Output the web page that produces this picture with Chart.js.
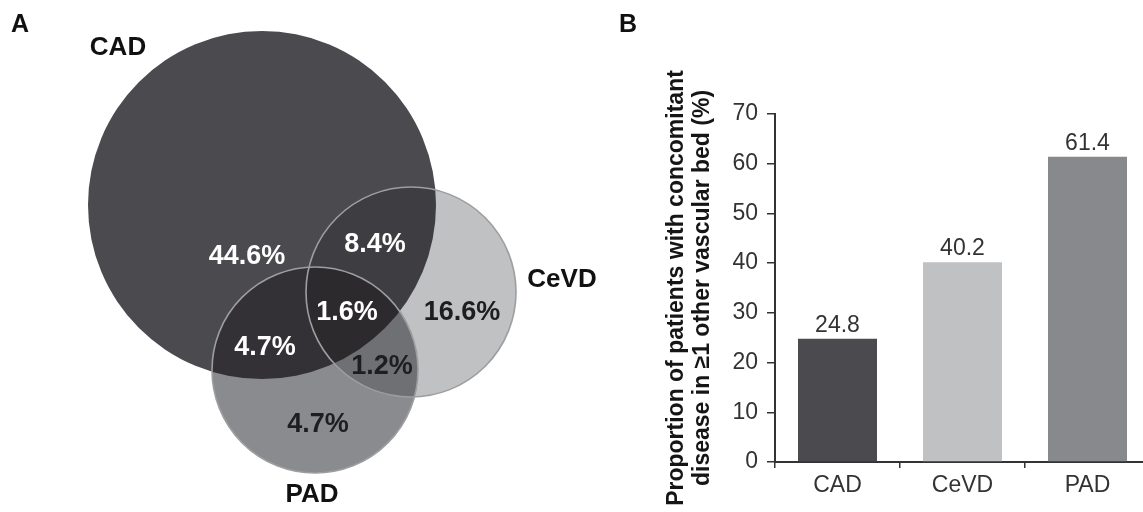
<!DOCTYPE html>
<html>
<head>
<meta charset="utf-8">
<script src="https://cdn.jsdelivr.net/npm/chart.js@4.4.1/dist/chart.umd.min.js"></script>
<style>
  html, body { margin: 0; padding: 0; background: #fff; overflow: hidden; }
  #wrap { position: relative; width: 1143px; height: 512px; overflow: hidden; }
  #venn { position: absolute; left: 0; top: 0; }
  #bars { position: absolute; left: 590px; top: 0; }
</style>
</head>
<body>
<div id="wrap">
  <canvas id="venn" width="620" height="512"></canvas>
  <canvas id="bars" width="570" height="512"></canvas>
</div>
<script>
const FONT = '"Liberation Sans", Arial, Helvetica, sans-serif';

// Panel A - Venn diagram (circle centres / radii in figure units)
const vennSets = ['CAD', 'CeVD', 'PAD'];
const vennX = [262, 411, 315];
const vennY = [205, 292, 370];
const vennR = [174, 105, 103];
const vennColors = ['#4a4a4f', '#bfc1c3', '#8a8b8e'];
const vennLabelX = [118, 562, 312];
const vennLabelY = [48, 280, 495];

const overlapSets = [[0, 1], [0, 2], [1, 2], [0, 1, 2]];
const overlapColors = ['#3e3d41', '#333135', '#6f7073', '#2c2a2d'];

const regionLabels = ['44.6%', '8.4%', '16.6%', '1.6%', '4.7%', '1.2%', '4.7%'];
const regionX = [247, 375, 462, 347, 265, 382, 318];
const regionY = [257, 245, 313, 313, 348, 367, 425];
const regionDark = [false, false, true, false, false, true, true];

// Panel B - bar chart
const barCategories = ['CAD', 'CeVD', 'PAD'];
const barValues = [24.8, 40.2, 61.4];
const barColors = ['#4a4a4f', '#bfc1c3', '#88898c'];
const yMax = 70;
const yStep = 10;
const yTitle = ['Proportion of patients with concomitant', 'disease in \u22651 other vascular bed (%)'];

// circles are drawn from the scatter points, radius converted through the x scale
const vennPlugin = {
    id: 'vennCircles',
    afterDatasetsDraw(chart) {
        const ctx = chart.ctx;
        const xs = chart.scales.x;
        const ys = chart.scales.y;
        const pts = chart.getDatasetMeta(0).data;
        const circles = pts.map((p, i) => ({
            x: p.x,
            y: p.y,
            r: xs.getPixelForValue(vennR[i]) - xs.getPixelForValue(0),
        }));
        const circlePath = (c) => {
            ctx.beginPath();
            ctx.arc(c.x, c.y, c.r, 0, Math.PI * 2);
        };

        ctx.save();
        circles.forEach((c, i) => {
            circlePath(c);
            ctx.fillStyle = vennColors[i];
            ctx.fill();
        });

        // overlap regions
        overlapSets.forEach((set, i) => {
            ctx.save();
            set.forEach(k => {
                circlePath(circles[k]);
                ctx.clip();
            });
            ctx.fillStyle = overlapColors[i];
            ctx.fillRect(0, 0, chart.width, chart.height);
            ctx.restore();
        });

        // outlines of CeVD and PAD
        ctx.strokeStyle = '#9d9ea0';
        ctx.lineWidth = 1.6;
        [1, 2].forEach(k => {
            circlePath(circles[k]);
            ctx.stroke();
        });

        ctx.textAlign = 'center';
        ctx.textBaseline = 'middle';
        ctx.font = 'bold 27px ' + FONT;
        regionLabels.forEach((txt, i) => {
            ctx.fillStyle = regionDark[i] ? '#1e1e20' : '#ffffff';
            ctx.fillText(txt, xs.getPixelForValue(regionX[i]), ys.getPixelForValue(regionY[i]));
        });
        ctx.fillStyle = '#111';
        ctx.font = 'bold 26px ' + FONT;
        vennSets.forEach((name, i) => {
            ctx.fillText(name, xs.getPixelForValue(vennLabelX[i]), ys.getPixelForValue(vennLabelY[i]));
        });
        ctx.font = 'bold 25px ' + FONT;
        ctx.fillText('A', 20, 25);
        ctx.restore();
    }
};

new Chart(document.getElementById('venn'), {
    type: 'scatter',
    data: {
        datasets: [{
            label: 'sets',
            data: vennSets.map((name, i) => ({ x: vennX[i], y: vennY[i] })),
            pointRadius: 0,
            pointHoverRadius: 0,
        }],
    },
    options: {
        responsive: false,
        animation: false,
        events: [],
        layout: { padding: 0 },
        plugins: { legend: { display: false }, tooltip: { enabled: false } },
        scales: {
            x: { type: 'linear', min: 0, max: 620, display: false },
            y: { type: 'linear', min: 0, max: 512, reverse: true, display: false },
        },
    },
    plugins: [vennPlugin],
});

const barLabels = {
    id: 'barLabels',
    afterDatasetsDraw(chart) {
        const ctx = chart.ctx;
        const meta = chart.getDatasetMeta(0);
        ctx.save();
        ctx.fillStyle = '#333';
        ctx.font = '23px ' + FONT;
        ctx.textAlign = 'center';
        ctx.textBaseline = 'alphabetic';
        meta.data.forEach((bar, i) => {
            ctx.fillText(barValues[i].toFixed(1), bar.x, bar.y - 7);
        });
        ctx.fillStyle = '#111';
        ctx.font = 'bold 25px ' + FONT;
        ctx.textBaseline = 'middle';
        ctx.fillText('B', 38, 25);
        ctx.restore();
    }
};

new Chart(document.getElementById('bars'), {
    type: 'bar',
    data: {
        labels: barCategories,
        datasets: [{
            data: barValues,
            backgroundColor: barColors,
            barPercentage: 0.632,
            categoryPercentage: 1,
        }],
    },
    options: {
        responsive: false,
        animation: false,
        events: [],
        layout: { padding: { top: 114, right: 10, bottom: 0, left: 0 } },
        plugins: { legend: { display: false }, tooltip: { enabled: false } },
        scales: {
            x: {
                grid: { display: true, drawOnChartArea: false, tickLength: 6, color: '#333', lineWidth: 1.5, offset: true },
                border: { color: '#333', width: 2 },
                ticks: { color: '#333', font: { family: FONT, size: 23 }, padding: 4 },
                afterFit: (s) => { s.height = 50; },
            },
            y: {
                min: 0,
                max: yMax,
                ticks: { stepSize: yStep, color: '#333', font: { family: FONT, size: 23 }, padding: 9 },
                grid: { drawOnChartArea: false, tickLength: 8, color: '#333', lineWidth: 1.5 },
                border: { color: '#333', width: 2 },
                title: {
                    display: true,
                    text: yTitle,
                    color: '#151515',
                    font: { family: FONT, size: 23, weight: 'bold', lineHeight: 1.13 },
                    padding: { top: 74, bottom: 0 },
                },
                afterFit: (s) => { s.width = 185; },
            },
        },
    },
    plugins: [barLabels],
});
</script>
</body>
</html>
